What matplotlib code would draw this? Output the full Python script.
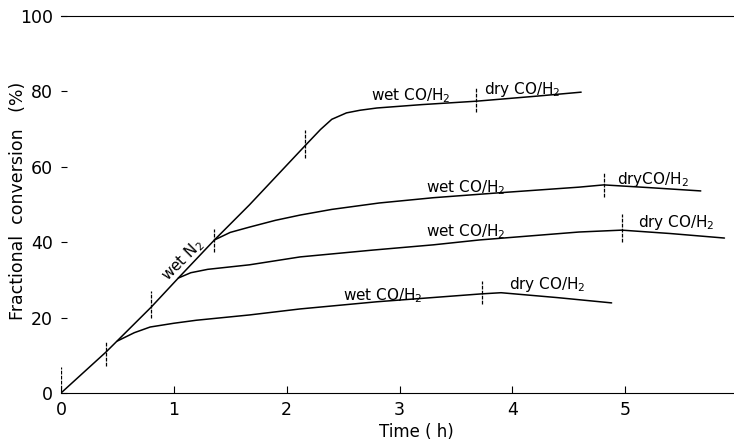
#-*-coding:utf-8 -*-
import matplotlib
matplotlib.use('Agg')
from matplotlib import pyplot as plt

plt.rcParams['font.family'] = ['DejaVu Sans']
plt.rcParams['mathtext.fontset'] = 'dejavusans'

# wet N2 line + top curve (h, %)
t_a = [0, 0.40, 0.80, 1.04, 1.36, 1.67, 2.16, 2.30, 2.40, 2.53, 2.65, 2.80, 3.20, 3.68, 4.20, 4.61]
y_a = [0, 10.9, 22.8, 30.5, 40.6, 49.9, 65.5, 69.9, 72.6, 74.3, 75.0, 75.6, 76.5, 77.4, 78.7, 79.8]

# branch at 1.36 h
t_b = [1.36, 1.50, 1.67, 1.90, 2.12, 2.40, 2.82, 3.30, 3.88, 4.59, 4.81, 5.20, 5.67]
y_b = [40.6, 42.6, 44.0, 45.8, 47.2, 48.7, 50.4, 51.8, 53.1, 54.6, 55.2, 54.5, 53.6]

# branch at 1.04 h
t_c = [1.04, 1.15, 1.30, 1.67, 2.12, 2.76, 3.30, 3.71, 4.59, 4.97, 5.40, 5.88]
y_c = [30.5, 31.9, 32.8, 34.0, 36.1, 37.9, 39.3, 40.6, 42.7, 43.2, 42.3, 41.1]

# branch at 0.5 h
t_d = [0.50, 0.65, 0.79, 1.00, 1.20, 1.67, 2.12, 2.80, 3.73, 3.90, 4.40, 4.88]
y_d = [13.8, 16.0, 17.5, 18.5, 19.3, 20.7, 22.3, 24.2, 26.3, 26.6, 25.3, 23.9]

# vertical marks where the gas was switched
mark_t = [0, 0.40, 0.80, 1.36, 2.16, 3.68, 3.73, 4.81, 4.97]
mark_lo = [1, 7.1, 20, 37.3, 62.4, 74.5, 23.5, 51.9, 40.0]
mark_hi = [7, 13.8, 27, 43.4, 69.8, 81.0, 29.6, 58.7, 47.4]

# curve labels: text, x, y, rotation
notes = [
    ('wet N$_2$', 1.08, 35.2, 45),
    ('wet CO/H$_2$', 3.10, 79.0, 0),
    ('dry CO/H$_2$', 4.09, 80.4, 0),
    ('wet CO/H$_2$', 3.59, 54.6, 0),
    ('dryCO/H$_2$', 5.25, 56.6, 0),
    ('wet CO/H$_2$', 3.59, 42.8, 0),
    ('dry CO/H$_2$', 5.45, 45.2, 0),
    ('wet CO/H$_2$', 2.85, 25.7, 0),
    ('dry CO/H$_2$', 4.31, 28.7, 0),
]

fig = plt.figure(figsize=(7.34, 4.46), dpi=100)
ax = fig.add_axes([61/734., 53/446., 677/734., 377/446.])

for t, y in [(t_a, y_a), (t_b, y_b), (t_c, y_c), (t_d, y_d)]:
    ax.plot(t, y, color='black', lw=1.1, solid_capstyle='round')

ax.vlines(mark_t, mark_lo, mark_hi, color='black', lw=0.9, linestyles=(0, (3, 1)))

for s, x, y, r in notes:
    ax.text(x, y, s, ha='center', va='center', rotation=r, fontsize=11,
            rotation_mode='anchor')

ax.set_xlim(0, 6)
ax.set_ylim(0, 100)
ax.set_xticks([0, 1, 2, 3, 4, 5, 6])
ax.set_yticks([0, 20, 40, 60, 80, 100])
ax.spines['left'].set_visible(False)
ax.spines['right'].set_visible(False)
ax.spines['top'].set_linewidth(0.8)
ax.spines['bottom'].set_linewidth(0.8)
ax.spines['top'].set_linestyle((0, (6, 1)))
ax.spines['bottom'].set_linestyle((0, (6, 1)))
ax.tick_params(axis='y', direction='in', length=4, width=0.8, pad=6, labelsize=12.5)
ax.tick_params(axis='x', direction='in', length=5, width=0.8, pad=6, labelsize=12.5)

ax.set_xlabel('Time ( h)', fontsize=12)
ax.xaxis.set_label_coords((416 - 61) / 677., -0.08)
ax.set_ylabel('Fractional  conversion   (%)', fontsize=12.5)
ax.yaxis.set_label_coords(-0.05, 0.51)

fig.savefig('out.png', dpi=100)
